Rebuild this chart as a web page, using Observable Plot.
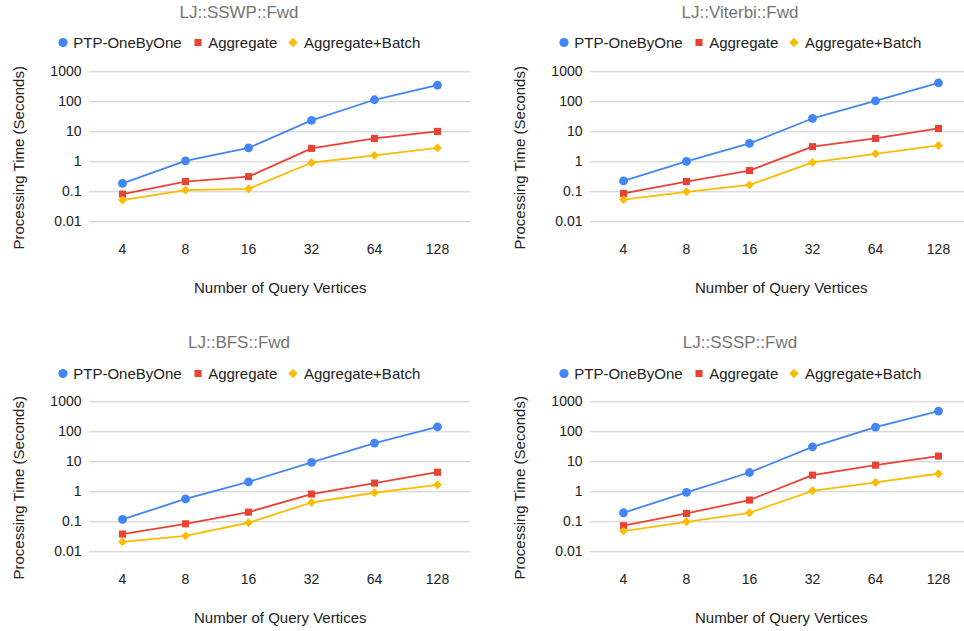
<!DOCTYPE html>
<html><head><meta charset="utf-8">
<script src="https://cdn.jsdelivr.net/npm/d3@7"></script>
<script src="https://cdn.jsdelivr.net/npm/@observablehq/plot@0.6"></script>
<style>
html,body{margin:0;padding:0;background:#fff;overflow:hidden}
#root{position:relative;width:964px;height:631px;overflow:hidden;font-family:"Liberation Sans",Arial,sans-serif}
.panel{position:absolute;width:501px;height:320px}
.title{position:absolute;left:0;width:478px;text-align:center;top:3.9px;font-size:17px;line-height:17px;color:#757575;white-space:nowrap}
.legend{position:absolute;left:0;width:478px;top:35.3px;display:flex;justify-content:center;font-size:15px;line-height:15px;color:#222;white-space:nowrap}
.item{display:flex;align-items:center;margin:0 5.5px}
.item svg{display:block;margin-right:5.5px}
</style>
</head><body>
<div id="root"></div>
<script>
const vertices = ["4", "8", "16", "32", "64", "128"];
const seriesNames = ["PTP-OneByOne", "Aggregate", "Aggregate+Batch"];
const yTicks = [0.01, 0.1, 1, 10, 100, 1000];
const panelTitles = ["LJ::SSWP::Fwd", "LJ::Viterbi::Fwd", "LJ::BFS::Fwd", "LJ::SSSP::Fwd"];
const xTitle = "Number of Query Vertices";
const yTitle = "Processing Time (Seconds)";

const sswpOneByOne = [0.19, 1.08, 2.9, 24, 117, 360];
const sswpAggregate = [0.084, 0.22, 0.32, 2.8, 6.0, 10.3];
const sswpBatch = [0.053, 0.114, 0.126, 0.93, 1.63, 2.9];

const viterbiOneByOne = [0.23, 1.03, 4.1, 27.8, 108, 430];
const viterbiAggregate = [0.088, 0.22, 0.51, 3.2, 6.0, 12.9];
const viterbiBatch = [0.055, 0.1, 0.17, 0.95, 1.85, 3.5];

const bfsOneByOne = [0.12, 0.58, 2.15, 9.5, 42, 147];
const bfsAggregate = [0.039, 0.086, 0.21, 0.84, 1.95, 4.5];
const bfsBatch = [0.0215, 0.034, 0.093, 0.44, 0.93, 1.71];

const ssspOneByOne = [0.2, 0.95, 4.4, 31.6, 143, 489];
const ssspAggregate = [0.074, 0.19, 0.53, 3.6, 7.7, 15.5];
const ssspBatch = [0.049, 0.1, 0.2, 1.08, 2.05, 4.0];

const panelSeries = [
  [sswpOneByOne, sswpAggregate, sswpBatch],
  [viterbiOneByOne, viterbiAggregate, viterbiBatch],
  [bfsOneByOne, bfsAggregate, bfsBatch],
  [ssspOneByOne, ssspAggregate, ssspBatch]
];

const colors = ["#4285F4", "#EA4335", "#FBBC04"];
const symbols = ["circle", "square", "diamond2"];
const radii = [4.4, 4.0, 4.0];
const FONT = '"Liberation Sans", Arial, sans-serif';

const root = document.getElementById("root");
const positions = [[0, 0], [501, 0], [0, 330.3], [501, 330.3]];

function legendMarker(i) {
  const ns = "http://www.w3.org/2000/svg";
  const svg = document.createElementNS(ns, "svg");
  svg.setAttribute("width", 10);
  svg.setAttribute("height", 15);
  const p = document.createElementNS(ns, "path");
  const sym = [d3.symbolCircle, d3.symbolSquare, d3.symbolDiamond2][i];
  const size = [Math.PI * 4.6 * 4.6, 50, 55][i];
  p.setAttribute("d", d3.symbol(sym, size)());
  p.setAttribute("transform", "translate(5,7.5)");
  p.setAttribute("fill", colors[i]);
  svg.appendChild(p);
  return svg;
}

panelTitles.forEach((title, pi) => {
  const panel = document.createElement("div");
  panel.className = "panel";
  panel.style.left = positions[pi][0] + "px";
  panel.style.top = positions[pi][1] + "px";
  root.appendChild(panel);

  const t = document.createElement("div");
  t.className = "title";
  t.textContent = title;
  panel.appendChild(t);

  const lg = document.createElement("div");
  lg.className = "legend";
  seriesNames.forEach((name, i) => {
    const it = document.createElement("div");
    it.className = "item";
    it.appendChild(legendMarker(i));
    const s = document.createElement("span");
    s.textContent = name;
    it.appendChild(s);
    lg.appendChild(it);
  });
  panel.appendChild(lg);

  const marks = [
    Plot.ruleY(yTicks, {stroke: "#cccccc", strokeWidth: 1}),
    Plot.axisY({ticks: yTicks, tickFormat: d => String(d), tickSize: 0, tickPadding: 8, label: null, fontSize: 14, color: "#222"}),
    Plot.axisX({tickSize: 0, tickPadding: 22, label: null, fontSize: 14, color: "#222"}),
    Plot.text([xTitle], {frameAnchor: "bottom", textAnchor: "middle", dy: 71.5, fontSize: 15, fill: "#222", text: d => d}),
    Plot.text([yTitle], {frameAnchor: "left", textAnchor: "middle", rotate: -90, dx: -70, dy: 11, fontSize: 15, fill: "#222", text: d => d})
  ];
  panelSeries[pi].forEach((vals, si) => {
    const rows = vertices.map((v, k) => ({x: v, y: vals[k]}));
    marks.push(Plot.line(rows, {x: "x", y: "y", stroke: colors[si], strokeWidth: 1.8}));
    marks.push(Plot.dot(rows, {x: "x", y: "y", symbol: symbols[si], r: radii[si], fill: colors[si], stroke: "none"}));
  });

  const chart = Plot.plot({
    width: 501,
    height: 245,
    marginTop: 11.3,
    marginBottom: 83.7,
    marginLeft: 89,
    marginRight: 30.5,
    x: {type: "point", domain: vertices, padding: 0.5},
    y: {type: "log", domain: [0.01, 1000]},
    style: {fontFamily: FONT, fontSize: "14px", color: "#222", background: "transparent", overflow: "visible"},
    marks
  });
  chart.style.position = "absolute";
  chart.style.left = "0px";
  chart.style.top = "60px";
  panel.appendChild(chart);
});
</script>
</body></html>
